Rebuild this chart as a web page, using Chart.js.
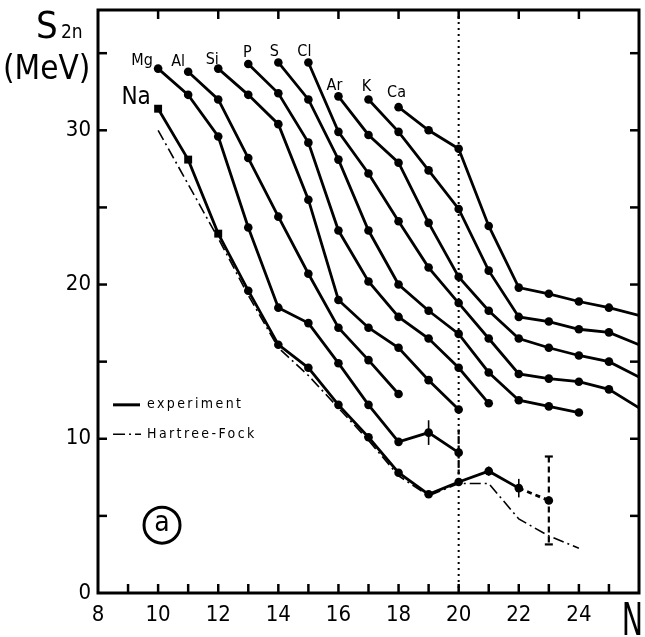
<!doctype html>
<html lang="en">
  <head>
    <meta charset="UTF-8" />
    <title>S2n vs N</title>
    <script src="https://cdn.jsdelivr.net/npm/chart.js"></script>
    <style>
      html, body { margin: 0; padding: 0; background: #fff; }
      canvas { display: block; }
    </style>
  </head>
  <body>
    <canvas id="s2nChart" width="645" height="637"></canvas>

    <script>
      // neutron number N and two-neutron separation energy S2n (MeV)
      const naN = [10, 11, 12, 13, 14, 15, 16, 17, 18, 19, 20, 21, 22, 23]
      const naS = [31.4, 28.1, 23.3, 19.6, 16.1, 14.6, 12.2, 10.1, 7.8, 6.4, 7.2, 7.9, 6.8, 6.0]
      const naErr = [0, 0, 0, 0, 0, 0, 0, 0, 0, 0, 0, 0.3, 0.6, 2.85]
      const mgN = [10, 11, 12, 13, 14, 15, 16, 17, 18, 19, 20]
      const mgS = [34.0, 32.3, 29.6, 23.7, 18.5, 17.5, 14.9, 12.2, 9.8, 10.4, 9.1]
      const mgErr = [0, 0, 0, 0, 0, 0, 0, 0, 0, 0.8, 1.5]
      const alN = [11, 12, 13, 14, 15, 16, 17, 18]
      const alS = [33.8, 32.0, 28.2, 24.4, 20.7, 17.2, 15.1, 12.9]
      const siN = [12, 13, 14, 15, 16, 17, 18, 19, 20]
      const siS = [34.0, 32.3, 30.4, 25.5, 19.0, 17.2, 15.9, 13.8, 11.9]
      const pN = [13, 14, 15, 16, 17, 18, 19, 20, 21]
      const pS = [34.3, 32.4, 29.2, 23.5, 20.2, 17.9, 16.5, 14.6, 12.3]
      const sN = [14, 15, 16, 17, 18, 19, 20, 21, 22, 23, 24]
      const sS = [34.4, 32.0, 28.1, 23.5, 20.0, 18.3, 16.8, 14.3, 12.5, 12.1, 11.7]
      const clN = [15, 16, 17, 18, 19, 20, 21, 22, 23, 24, 25, 26]
      const clS = [34.4, 29.9, 27.2, 24.1, 21.1, 18.8, 16.5, 14.2, 13.9, 13.7, 13.2, 12.0]
      const arN = [16, 17, 18, 19, 20, 21, 22, 23, 24, 25, 26]
      const arS = [32.2, 29.7, 27.9, 24.0, 20.5, 18.3, 16.5, 15.9, 15.4, 15.0, 14.0]
      const kN = [17, 18, 19, 20, 21, 22, 23, 24, 25, 26]
      const kS = [32.0, 29.9, 27.4, 24.9, 20.9, 17.9, 17.6, 17.1, 16.9, 16.1]
      const caN = [18, 19, 20, 21, 22, 23, 24, 25, 26]
      const caS = [31.5, 30.0, 28.8, 23.8, 19.8, 19.4, 18.9, 18.5, 18.0]
      // Hartree-Fock prediction for Na
      const hfN = [10, 11, 12, 13, 14, 15, 16, 17, 18, 19, 20, 21, 22, 23, 24]
      const hfS = [30.0, 26.5, 23.0, 19.3, 15.9, 14.1, 12.0, 9.9, 7.6, 6.3, 7.1, 7.1, 4.8, 3.7, 2.9]

      const xTicks = [8, 10, 12, 14, 16, 18, 20, 22, 24]
      const yTicks = [0, 10, 20, 30]
      const xMarks = [9, 10, 11, 12, 13, 14, 15, 16, 17, 18, 19, 20, 21, 22, 23, 24, 25]
      const xTopMarks = [10, 12, 14, 16, 18, 20, 22, 24]
      const yMarks = [5, 10, 15, 20, 25, 30, 35]

      const FONT = "'DejaVu Sans Condensed', 'Liberation Sans Narrow', 'DejaVu Sans', sans-serif"

      const pts = (ns, ss) => ns.map((n, i) => ({ x: n, y: ss[i] }))

      function chain(label, ns, ss, tag, err) {
        return {
          label,
          data: pts(ns, ss),
          err,
          tag,
          borderColor: '#000',
          backgroundColor: '#000',
          borderWidth: 2.8,
          // curves running off the right edge have no marker at N = 26
          pointRadius: ns.map((n) => (n === 26 ? 0 : 4.3)),
          pointBorderWidth: 0,
          tension: 0,
        }
      }

      const naSet = chain('Na', naN, naS, [-22, -11, 24], naErr)
      naSet.pointStyle = naN.map((n) => (n <= 12 ? 'rect' : 'circle'))
      naSet.pointRadius = naN.map((n) => (n <= 12 ? 5.6 : 4.3))
      naSet.segment = {
        borderDash: (ctx) => (naN[ctx.p0DataIndex] === 22 ? [5, 4] : undefined),
      }

      const datasets = [
        {
          label: 'Hartree-Fock',
          data: pts(hfN, hfS),
          borderColor: '#000',
          borderWidth: 1.6,
          borderDash: [11, 4, 2, 4],
          pointRadius: 0,
          tension: 0,
        },
        naSet,
        chain('Mg', mgN, mgS, [-16, -8, 16], mgErr),
        chain('Al', alN, alS, [-10, -10, 16]),
        chain('Si', siN, siS, [-6, -9, 16]),
        chain('P', pN, pS, [-1, -11, 16]),
        chain('S', sN, sS, [-4, -11, 16]),
        chain('Cl', clN, clS, [-4, -11, 16]),
        chain('Ar', arN, arS, [-4, -11, 16]),
        chain('K', kN, kS, [-2, -13, 16]),
        chain('Ca', caN, caS, [-2, -14, 16]),
      ]

      function line(ctx, x0, y0, x1, y1) {
        ctx.beginPath()
        ctx.moveTo(x0, y0)
        ctx.lineTo(x1, y1)
        ctx.stroke()
      }

      const decor = {
        id: 'decor',
        beforeDatasetsDraw(chart) {
          // dotted line at N = 20
          const { ctx, chartArea: a, scales } = chart
          const px = scales.x.getPixelForValue(20)
          ctx.save()
          ctx.strokeStyle = '#000'
          ctx.lineWidth = 2
          ctx.setLineDash([2, 4])
          line(ctx, px, a.top, px, a.bottom)
          ctx.restore()
        },
        afterDatasetsDraw(chart) {
          const { ctx, chartArea: a, scales } = chart
          const { x, y } = scales
          ctx.save()
          ctx.strokeStyle = '#000'
          ctx.fillStyle = '#000'

          // frame and inward tick marks
          ctx.lineWidth = 3
          ctx.strokeRect(a.left, a.top, a.right - a.left, a.bottom - a.top)
          ctx.lineWidth = 2.5
          xMarks.forEach((n) => {
            const px = x.getPixelForValue(n)
            line(ctx, px, a.bottom, px, a.bottom - 9)
          })
          xTopMarks.forEach((n) => {
            const px = x.getPixelForValue(n)
            line(ctx, px, a.top, px, a.top + 9)
          })
          yMarks.forEach((v) => {
            const py = y.getPixelForValue(v)
            line(ctx, a.left, py, a.left + 9, py)
            line(ctx, a.right, py, a.right - 9, py)
          })

          // error bars
          chart.data.datasets.forEach((ds) => {
            if (!ds.err) return
            ds.data.forEach((p, i) => {
              const e = ds.err[i]
              if (!e) return
              const px = x.getPixelForValue(p.x)
              const top = y.getPixelForValue(p.y + e)
              const bot = y.getPixelForValue(p.y - e)
              ctx.lineWidth = e > 1 ? 2.2 : 1.6
              ctx.setLineDash(e > 2 ? [6, 4] : e > 1 ? [5, 3] : [])
              line(ctx, px, top, px, bot)
              ctx.setLineDash([])
              if (e > 2) {
                line(ctx, px - 4, top, px + 4, top)
                line(ctx, px - 4, bot, px + 4, bot)
              }
            })
          })

          // element names at the start of each chain
          ctx.textAlign = 'center'
          ctx.textBaseline = 'middle'
          chart.data.datasets.forEach((ds) => {
            if (!ds.tag) return
            const p = ds.data[0]
            ctx.font = `${ds.tag[2]}px ${FONT}`
            ctx.fillText(ds.label, x.getPixelForValue(p.x) + ds.tag[0], y.getPixelForValue(p.y) + ds.tag[1])
          })

          // legend inside the plot
          const lx = x.getPixelForValue(8.5)
          const ly1 = y.getPixelForValue(12.2)
          const ly2 = y.getPixelForValue(10.3)
          ctx.lineWidth = 3
          line(ctx, lx, ly1, lx + 27, ly1)
          ctx.lineWidth = 1.5
          ctx.setLineDash([12, 4, 2, 4])
          line(ctx, lx, ly2, lx + 28, ly2)
          ctx.setLineDash([])
          ctx.font = `14px ${FONT}`
          ctx.letterSpacing = '2.4px'
          ctx.textAlign = 'left'
          ctx.fillText('experiment', lx + 34, ly1)
          ctx.fillText('Hartree-Fock', lx + 34, ly2)
          ctx.letterSpacing = '0px'

          // panel mark (a)
          const cx = x.getPixelForValue(10.13)
          const cy = y.getPixelForValue(4.4)
          ctx.lineWidth = 3
          ctx.beginPath()
          ctx.arc(cx, cy, 18, 0, Math.PI * 2)
          ctx.stroke()
          ctx.font = `28px ${FONT}`
          ctx.textAlign = 'center'
          ctx.fillText('a', cx, cy - 1)

          // axis titles
          ctx.textAlign = 'left'
          ctx.textBaseline = 'alphabetic'
          ctx.font = `38px ${FONT}`
          ctx.fillText('S', 36, 38)
          ctx.font = `19px ${FONT}`
          ctx.fillText('2n', 61, 38)
          ctx.font = `33px ${FONT}`
          ctx.fillText('(MeV)', 3, 79)

          ctx.translate(643, 635)
          ctx.scale(0.72, 1)
          ctx.textAlign = 'right'
          ctx.font = `44px ${FONT}`
          ctx.fillText('N', 0, 0)
          ctx.restore()
        },
      }

      new Chart(document.getElementById('s2nChart'), {
        type: 'line',
        data: { datasets },
        options: {
          responsive: false,
          animation: false,
          devicePixelRatio: 1,
          layout: { padding: { top: 10, right: 6, left: 0, bottom: 0 } },
          plugins: { legend: { display: false }, tooltip: { enabled: false } },
          scales: {
            x: {
              type: 'linear',
              min: 8,
              max: 26,
              afterBuildTicks: (s) => {
                s.ticks = xTicks.map((v) => ({ value: v }))
              },
              afterFit: (s) => {
                s.height = 44
                s.paddingLeft = 0
                s.paddingRight = 0
              },
              ticks: {
                autoSkip: false,
                maxRotation: 0,
                padding: 9,
                color: '#000',
                font: { size: 22, family: FONT },
              },
              grid: { display: false, drawTicks: false },
              border: { display: false },
            },
            y: {
              min: 0,
              max: 37.8,
              afterBuildTicks: (s) => {
                s.ticks = yTicks.map((v) => ({ value: v }))
              },
              afterFit: (s) => {
                s.width = 98
                s.paddingTop = 0
                s.paddingBottom = 0
              },
              ticks: {
                padding: 7,
                color: '#000',
                font: { size: 22, family: FONT },
              },
              grid: { display: false, drawTicks: false },
              border: { display: false },
            },
          },
        },
        plugins: [decor],
      })
    </script>
  </body>
</html>
